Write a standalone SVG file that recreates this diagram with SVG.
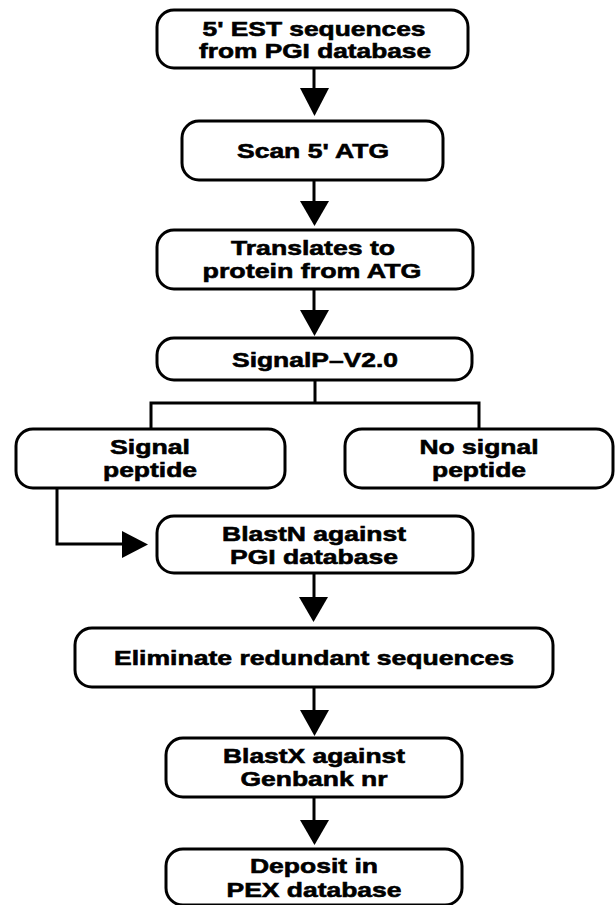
<svg xmlns="http://www.w3.org/2000/svg" width="615" height="905" viewBox="0 0 615 905">
<style>
.box{fill:#fff;stroke:#000;stroke-width:3}
.t{font-family:"Liberation Sans",Arial,Helvetica,sans-serif;font-weight:bold;font-size:21px;text-anchor:middle;fill:#000;stroke:#000;stroke-width:0.6px}
.ln{fill:none;stroke:#000;stroke-width:3}
.ah{fill:#000;stroke:none}
</style>
<rect width="615" height="905" fill="#fff"/>
<g id="connectors">
<path class="ln" d="M314,68V90"/>
<polygon class="ah" points="300,88 329,88 314.5,116"/>
<path class="ln" d="M314,180V203"/>
<polygon class="ah" points="300,201 329,201 314.5,226"/>
<path class="ln" d="M314,289V312"/>
<polygon class="ah" points="300,310 329,310 314.5,336"/>
<path class="ln" d="M315,380V403M151,429V403H479V429"/>
<path class="ln" d="M57,488V544H124"/>
<polygon class="ah" points="122,531 148,544.5 122,558"/>
<path class="ln" d="M314,573V599"/>
<polygon class="ah" points="299,597 328,597 313.5,622"/>
<path class="ln" d="M314,687V712"/>
<polygon class="ah" points="300,710 329,710 314.5,736"/>
<path class="ln" d="M314,797V822"/>
<polygon class="ah" points="300,820 329,820 314.5,845"/>
</g>
<g id="n1"><rect class="box" x="157" y="10" width="311" height="58" rx="17"/>
<text class="t" x="314" y="36" textLength="223" lengthAdjust="spacingAndGlyphs">5' EST sequences</text><text class="t" x="315" y="58" textLength="232" lengthAdjust="spacingAndGlyphs">from PGI database</text></g>
<g id="n2"><rect class="box" x="182" y="121" width="261" height="59" rx="17"/>
<text class="t" x="313" y="158" textLength="152" lengthAdjust="spacingAndGlyphs">Scan 5' ATG</text></g>
<g id="n3"><rect class="box" x="157" y="230" width="316" height="59" rx="17"/>
<text class="t" x="313" y="255" textLength="164" lengthAdjust="spacingAndGlyphs">Translates to</text><text class="t" x="312" y="278" textLength="219" lengthAdjust="spacingAndGlyphs">protein from ATG</text></g>
<g id="n4"><rect class="box" x="157" y="338" width="315" height="42" rx="17"/>
<text class="t" x="315" y="367" textLength="166" lengthAdjust="spacingAndGlyphs">SignalP–V2.0</text></g>
<g id="n5"><rect class="box" x="16" y="429" width="269" height="59" rx="17"/>
<text class="t" x="150" y="454" textLength="80" lengthAdjust="spacingAndGlyphs">Signal</text><text class="t" x="150" y="477" textLength="94" lengthAdjust="spacingAndGlyphs">peptide</text></g>
<g id="n6"><rect class="box" x="345" y="429" width="268" height="59" rx="17"/>
<text class="t" x="479" y="454" textLength="119" lengthAdjust="spacingAndGlyphs">No signal</text><text class="t" x="479" y="477" textLength="94" lengthAdjust="spacingAndGlyphs">peptide</text></g>
<g id="n7"><rect class="box" x="157" y="516" width="316" height="57" rx="17"/>
<text class="t" x="314" y="541" textLength="184" lengthAdjust="spacingAndGlyphs">BlastN against</text><text class="t" x="314" y="564" textLength="168" lengthAdjust="spacingAndGlyphs">PGI database</text></g>
<g id="n8"><rect class="box" x="75" y="628" width="478" height="59" rx="17"/>
<text class="t" x="314" y="665" textLength="400" lengthAdjust="spacingAndGlyphs">Eliminate redundant sequences</text></g>
<g id="n9"><rect class="box" x="166" y="738" width="296" height="59" rx="17"/>
<text class="t" x="314" y="763" textLength="182" lengthAdjust="spacingAndGlyphs">BlastX against</text><text class="t" x="314" y="786" textLength="147" lengthAdjust="spacingAndGlyphs">Genbank nr</text></g>
<g id="n10"><rect class="box" x="166" y="849" width="296" height="56" rx="17"/>
<text class="t" x="314" y="873" textLength="128" lengthAdjust="spacingAndGlyphs">Deposit in</text><text class="t" x="314" y="897" textLength="175" lengthAdjust="spacingAndGlyphs">PEX database</text></g>
</svg>
